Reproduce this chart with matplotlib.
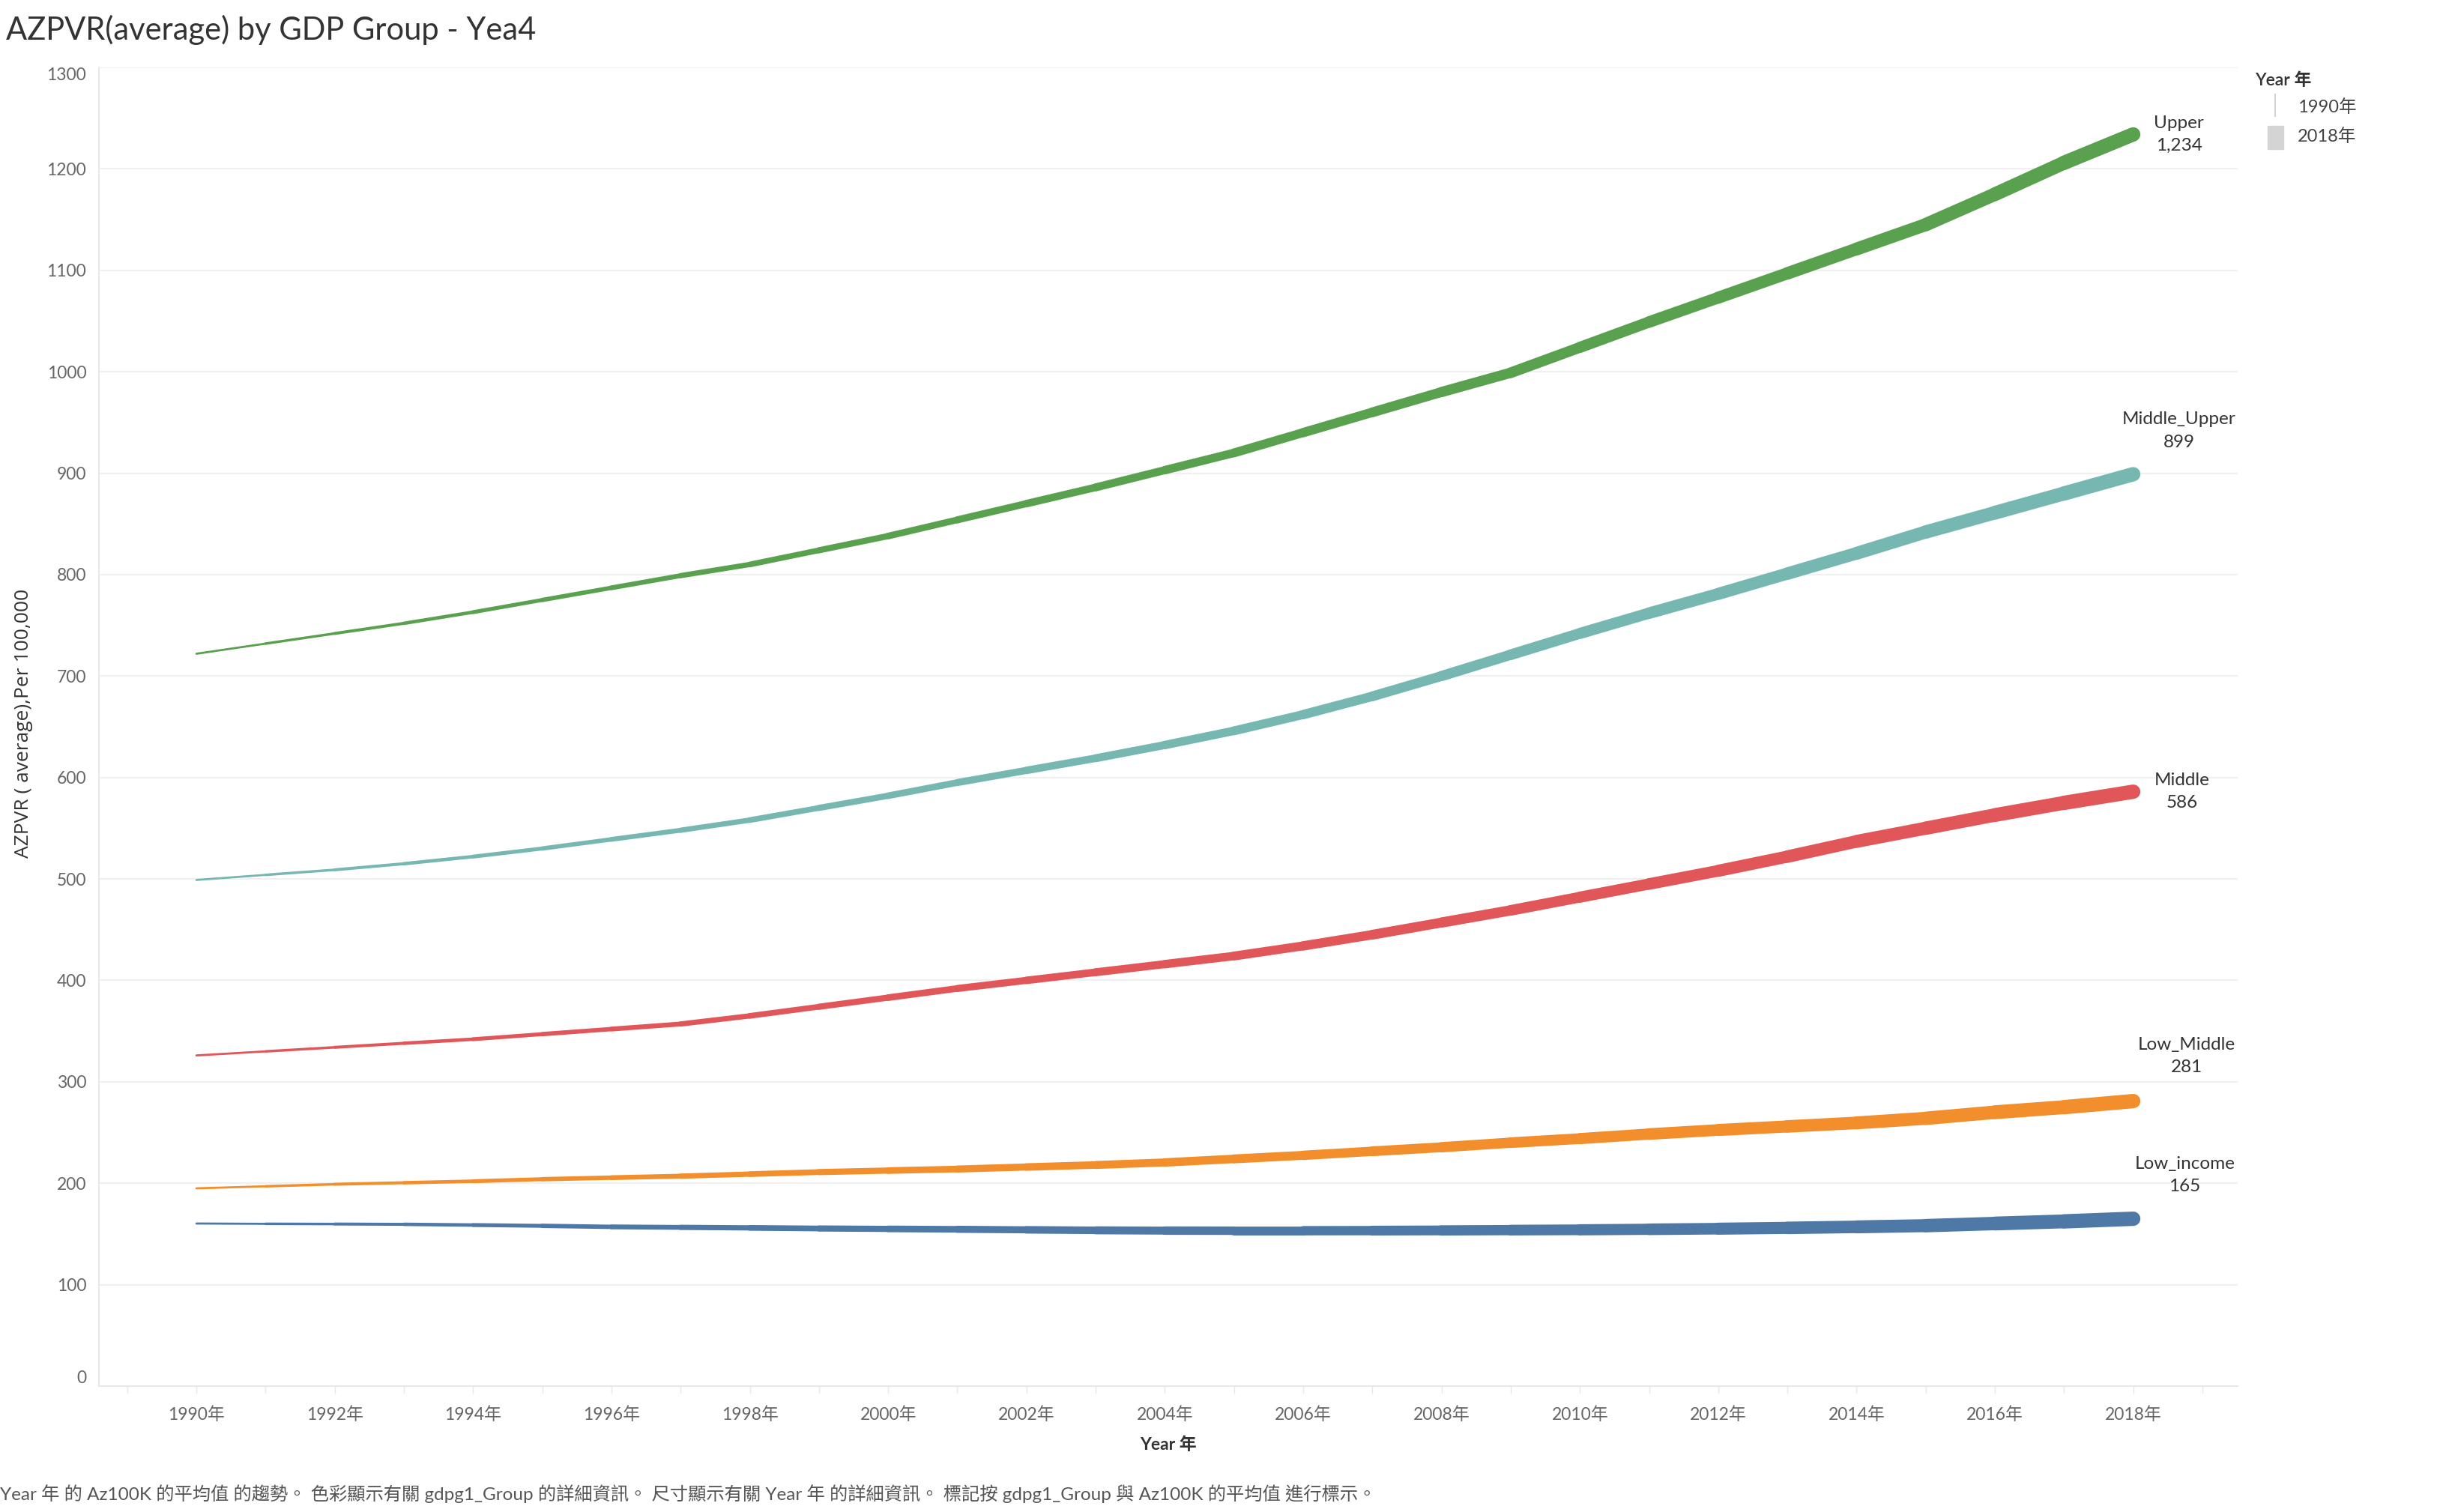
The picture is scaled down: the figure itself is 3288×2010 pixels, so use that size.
import matplotlib
matplotlib.use("Agg")
import matplotlib.pyplot as plt
from matplotlib.lines import Line2D
from matplotlib.patches import Rectangle

plt.rcParams['font.family'] = ['Lato', 'Noto Sans CJK TC', 'DejaVu Sans']

# data (Az100K average per GDP group)
years = list(range(1990, 2019))
groups = ['Upper', 'Middle_Upper', 'Middle', 'Low_Middle', 'Low_income']
upper = [722, 732, 742, 752, 763, 775, 787, 799, 810, 824, 838, 854, 870, 886, 903,
         920, 940, 960, 980, 999, 1024, 1049, 1073, 1097, 1121, 1145, 1175, 1206, 1234]
middle_upper = [499, 504, 509, 515, 522, 530, 539, 548, 558, 570, 582, 595, 607, 619, 632,
                646, 662, 680, 700, 721, 742, 762, 781, 801, 821, 842, 861, 880, 899]
middle = [326, 330, 334, 338, 342, 347, 352, 357, 365, 374, 383, 392, 400, 408, 416,
          424, 434, 445, 457, 469, 482, 495, 508, 522, 537, 550, 563, 575, 586]
low_middle = [195, 197, 199, 200.5, 202, 204, 205.5, 207, 209, 211, 212.5, 214, 216, 218, 220.5,
              224, 227.5, 231.5, 235.5, 240, 244, 248.5, 252.5, 256, 259.5, 264, 270, 275, 281]
low_income = [160.3, 160, 159.8, 159.5, 158.8, 158, 157, 156.5, 156, 155.4, 155, 154.6, 154.1, 153.6, 153.3,
              153.2, 153.2, 153.3, 153.5, 153.8, 154.1, 154.6, 155.2, 156, 157, 158.2, 160.3, 162.4, 165]
series = [upper, middle_upper, middle, low_middle, low_income]

colors = ['#59A14F', '#76B7B2', '#E15759', '#F28E2B', '#4E79A7']
# label offsets (pixels) relative to the last point
label_offsets = [(61, 0), (61, 58), (65, 0), (71, 60), (69, 58)]

W0, W1 = 1.8, 14.0


def width_at(year):
    return W0 + (W1 - W0) * (year - years[0]) / (years[-1] - years[0])


fig = plt.figure(figsize=(32.88, 20.10), dpi=100)
ax = fig.add_axes([132 / 3288, 1 - 1850 / 2010, (2986 - 132) / 3288, (1850 - 90) / 2010])

for vals, col in zip(series, colors):
    for i in range(len(years) - 1):
        mid = (years[i] + years[i + 1]) / 2
        ax.plot(years[i:i + 2], vals[i:i + 2], color=col, lw=width_at(mid),
                solid_capstyle='round', zorder=3)

for name, vals, (dx, dy) in zip(groups, series, label_offsets):
    ax.annotate(f"{name}\n{round(vals[-1]):,}", xy=(years[-1], vals[-1]), xytext=(dx, dy),
                textcoords='offset pixels', ha='center', va='center',
                fontsize=17.5, color='#333333', linespacing=1.55, zorder=4)

ax.set_xlim(1988.59, 2019.51)
ax.set_ylim(0, 1300)
ax.set_yticks(range(0, 1301, 100))
ax.set_xticks(years[::2])
ax.set_xticklabels([f"{y}年" for y in years[::2]])
ax.set_xticks(list(range(1989, 2020)), minor=True)
ax.grid(axis='y', color='#f0f0f0', lw=1.5, zorder=0)
for s in ['top', 'right']:
    ax.spines[s].set_visible(False)
for s in ['left', 'bottom']:
    ax.spines[s].set_color('#e8e8e8')
    ax.spines[s].set_linewidth(1.5)
ax.tick_params(axis='y', length=0, pad=12, labelsize=16.5, labelcolor='#666666')
ax.tick_params(axis='x', which='both', length=7, color='#e8e8e8', width=1,
               pad=13, labelsize=16.5, labelcolor='#666666')
ylabels = ax.get_yticklabels()
ylabels[-1].set_va('top')
ylabels[0].set_va('bottom')

ax.set_xlabel('Year 年', fontsize=16.5, fontweight='bold', color='#333333', labelpad=13)
fig.text(32 / 3288, 1 - 965 / 2010, 'AZPVR ( average),Per 100,000', rotation=90,
         ha='center', va='center', fontsize=19, color='#333333',
         family=['Open Sans', 'Noto Sans CJK TC'])

fig.text(8 / 3288, 1 - 40 / 2010, 'AZPVR(average) by GDP Group - Yea4',
         ha='left', va='center', fontsize=30, fontweight='normal', color='#333333')

# size legend
fig.text(3009 / 3288, 1 - 107 / 2010, 'Year 年', ha='left', va='center',
         fontsize=16.5, fontweight='semibold', color='#333333')
fig.add_artist(Line2D([3036 / 3288, 3036 / 3288], [1 - 126 / 2010, 1 - 155 / 2010],
                      color='#d4d4d4', lw=1.5, transform=fig.transFigure))
fig.add_artist(Rectangle((3026 / 3288, 1 - 199 / 2010), 21 / 3288, 31 / 2010,
                         color='#d4d4d4', transform=fig.transFigure))
fig.text(3066 / 3288, 1 - 143 / 2010, '1990年', ha='left', va='center', fontsize=17, color='#444444')
fig.text(3066 / 3288, 1 - 182 / 2010, '2018年', ha='left', va='center', fontsize=17, color='#444444')

fig.text(0, 1 - 1994 / 2010,
         'Year 年 的 Az100K 的平均值 的趨勢。 色彩顯示有關 gdpg1_Group 的詳細資訊。 '
         '尺寸顯示有關 Year 年 的詳細資訊。 標記按 gdpg1_Group 與 Az100K 的平均值 進行標示。',
         ha='left', va='center', fontsize=17.5, color='#555555')

fig.savefig('out.png', dpi=100)
